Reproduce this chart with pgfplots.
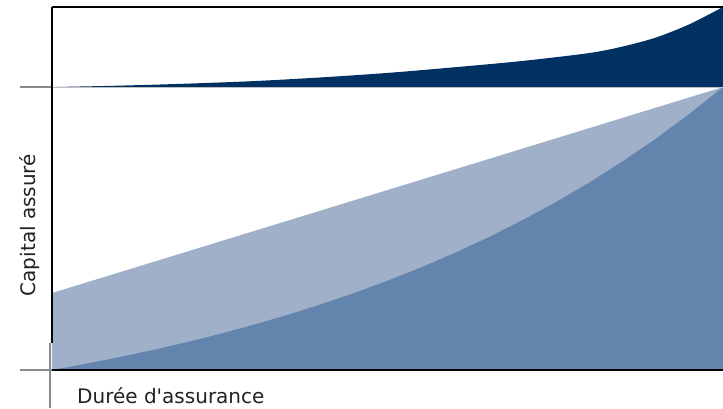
\documentclass[border=0pt]{standalone}
\usepackage{pgfplots}
\pgfplotsset{compat=1.18}
\usepackage{fontspec}
\setmainfont{DejaVu Sans}
\newfontfamily\lblfont{DejaVu Sans}
\definecolor{navy}{HTML}{003162}
\definecolor{midblue}{HTML}{6384AC}
\definecolor{lightblue}{HTML}{A0B0C8}
\definecolor{stub}{HTML}{8A8A8A}
\definecolor{txt}{HTML}{222222}
\begin{document}
\begin{tikzpicture}
\useasboundingbox (0,0) rectangle (723bp,409bp);
\begin{axis}[
  at={(52bp,39bp)}, anchor=south west,
  scale only axis, width=671bp, height=363bp,
  xmin=0, xmax=1, ymin=0, ymax=1.283,
  hide axis, clip=false,
]
% light area: straight line
\addplot[fill=lightblue, draw=none] coordinates {(0,0.272) (1,1)} \closedcycle;
% mid area: convex curve
\addplot[fill=midblue, draw=none] coordinates {
(0,0) (0.05,0.0217) (0.1,0.0452) (0.15,0.0705) (0.2,0.0979) (0.25,0.1275)
(0.3,0.1595) (0.35,0.1941) (0.4,0.2314) (0.45,0.2718) (0.5,0.3154)
(0.55,0.3626) (0.6,0.4135) (0.65,0.4685) (0.7,0.5280) (0.75,0.5922)
(0.8,0.6616) (0.85,0.7366) (0.9,0.8177) (0.95,0.9053) (1,1)} \closedcycle;
% navy band (upper edge)
\addplot[fill=navy, draw=none, smooth] coordinates {
(0,1) (0.1,1.005) (0.2,1.012) (0.3,1.021) (0.4,1.034) (0.5,1.050)
(0.6,1.070) (0.7,1.092) (0.8,1.120) (0.85,1.143) (0.9,1.175)
(0.95,1.222) (1,1.283)} |- (axis cs:0,1) -- cycle;
% axis decorations
\draw[line width=2pt, black] (axis cs:-0.0477,0) -- (axis cs:1,0);
\draw[line width=1.5pt, stub] (axis cs:-0.0477,0) -- (axis cs:0,0);
\draw[line width=1.2pt, stub] (axis cs:-0.0477,1) -- (axis cs:0,1);
\draw[line width=0.8pt, black!25] (axis cs:0,1) -- (axis cs:1,1);
\draw[line width=1.6pt, black] (axis cs:0,1.283) -- (axis cs:1,1.283);
\draw[line width=1.6pt, black] (axis cs:0,1.283) -- (axis cs:0,0.095);
\draw[line width=1.5pt, stub] (axis cs:-0.003,0.095) -- (axis cs:-0.003,-0.134);
\node[rotate=90, anchor=center, text=txt, font=\lblfont\fontsize{20bp}{24bp}\selectfont]
  at (axis cs:-0.0328,0.512) {Capital assuré};
\node[anchor=base west, inner sep=0pt, text=txt, font=\lblfont\fontsize{20bp}{24bp}\selectfont]
  at (axis cs:0.0373,-0.120) {Durée d'assurance};
\end{axis}
\end{tikzpicture}
\end{document}
